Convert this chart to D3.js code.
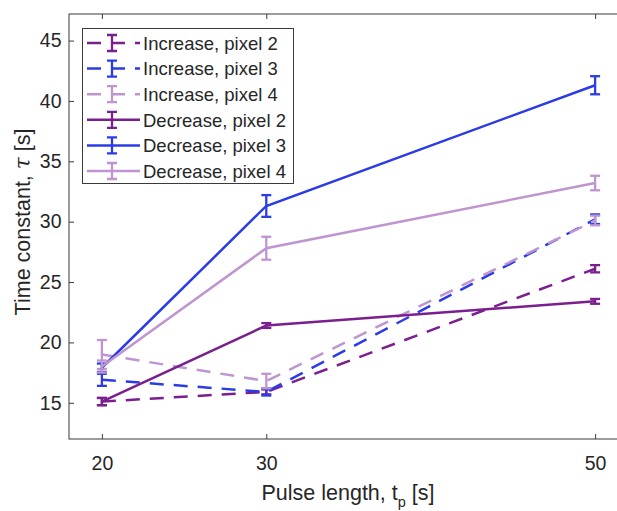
<!DOCTYPE html>
<html>
<head>
<meta charset="utf-8">
<script src="https://cdn.jsdelivr.net/npm/d3@7"></script>
<style>
  body { margin: 0; background: #fff; }
  text { font-family: "Liberation Sans", Arial, Helvetica, sans-serif; fill: #262626; }
</style>
</head>
<body>
<div id="chart"></div>
<script>
// pulse lengths (x) and tick labels
const pulse = [20, 30, 50]
const xTicks = [20, 30, 50]
const yTicks = [15, 20, 25, 30, 35, 40, 45]

// time constants per series, with error bar half-widths
const incP2 = [15.1, 15.9, 26.1], incP2Err = [0.3, 0.2, 0.3]
const incP3 = [16.9, 15.9, 30.2], incP3Err = [0.5, 0.3, 0.4]
const incP4 = [19.0, 16.8, 30.1], incP4Err = [1.2, 0.6, 0.4]
const decP2 = [15.1, 21.4, 23.4], decP2Err = [0.3, 0.2, 0.2]
const decP3 = [17.9, 31.3, 41.3], decP3Err = [0.35, 0.9, 0.75]
const decP4 = [18.0, 27.8, 33.2], decP4Err = [0.5, 0.95, 0.6]

const seriesNames = ['Increase, pixel 2', 'Increase, pixel 3', 'Increase, pixel 4',
  'Decrease, pixel 2', 'Decrease, pixel 3', 'Decrease, pixel 4']

const purple = '#7a1f8e', blue = '#2b3ce6', lilac = '#bf95d0'

const series = [
  {name: seriesNames[0], y: incP2, err: incP2Err, color: purple, dashed: true},
  {name: seriesNames[1], y: incP3, err: incP3Err, color: blue, dashed: true},
  {name: seriesNames[2], y: incP4, err: incP4Err, color: lilac, dashed: true},
  {name: seriesNames[3], y: decP2, err: decP2Err, color: purple, dashed: false},
  {name: seriesNames[4], y: decP3, err: decP3Err, color: blue, dashed: false},
  {name: seriesNames[5], y: decP4, err: decP4Err, color: lilac, dashed: false}
]

const width = 617, height = 511
const axisColor = '#3a3a3a'
const dash = '14,10'
const capW = 5

const x = d3.scaleLinear().domain([18, 52]).range([69, 628])
const y = d3.scaleLinear().domain([12, 47.2]).range([439, 14])

const svg = d3.select('#chart').append('svg')
  .attr('width', width)
  .attr('height', height)

// box + ticks
svg.append('rect')
  .attr('x', x(18)).attr('y', y(47.2))
  .attr('width', x(52) - x(18)).attr('height', y(12) - y(47.2))
  .attr('fill', 'none').attr('stroke', axisColor).attr('stroke-width', 1)

const xAxisB = d3.axisBottom(x).tickValues(xTicks).tickSize(-5).tickPadding(17)
const xAxisT = d3.axisTop(x).tickValues(xTicks).tickSize(-5).tickFormat('')
const yAxisL = d3.axisLeft(y).tickValues(yTicks).tickSize(-5).tickPadding(7.5)

const styleAxis = g => {
  g.select('.domain').remove()
  g.selectAll('line').attr('stroke', axisColor)
  g.selectAll('text').attr('fill', '#262626')
    .style('font-size', '19.5px')
    .style('font-family', '"Liberation Sans", Arial, sans-serif')
}

svg.append('g').attr('transform', `translate(0,${y(12)})`).call(xAxisB).call(styleAxis)
svg.append('g').attr('transform', `translate(0,${y(47.2)})`).call(xAxisT).call(styleAxis)
svg.append('g').attr('transform', `translate(${x(18)},0)`).call(yAxisL).call(styleAxis)

// axis labels
const xl = svg.append('text')
  .attr('x', 348).attr('y', 500)
  .attr('text-anchor', 'middle')
  .style('font-size', '21.5px')
xl.append('tspan').text('Pulse length, t')
xl.append('tspan').attr('dy', 7).style('font-size', '14.5px').text('p')
xl.append('tspan').attr('dy', -7).text(' [s]')

const yl = svg.append('text')
  .attr('transform', 'translate(30,222) rotate(-90)')
  .attr('text-anchor', 'middle')
  .style('font-size', '21.5px')
yl.append('tspan').text('Time constant, ')
yl.append('tspan').style('font-family', '"DejaVu Serif", serif').style('font-style', 'italic').text('τ')
yl.append('tspan').text(' [s]')

// lines
const line = d3.line()
  .x((d, i) => x(pulse[i]))
  .y(d => y(d))

const plot = svg.append('g')

series.forEach(s => {
  plot.append('path')
    .datum(s.y)
    .attr('d', line)
    .attr('fill', 'none')
    .attr('stroke', s.color)
    .attr('stroke-width', 2.5)
    .attr('stroke-dasharray', s.dashed ? dash : null)

  const bars = plot.append('g')
    .selectAll('g')
    .data(s.y.map((v, i) => ({x: pulse[i], v: v, e: s.err[i]})))
    .join('g')
    .attr('stroke', s.color)
    .attr('stroke-width', 2.3)
  bars.append('line')
    .attr('x1', d => x(d.x)).attr('x2', d => x(d.x))
    .attr('y1', d => y(d.v - d.e)).attr('y2', d => y(d.v + d.e))
  bars.append('line')
    .attr('x1', d => x(d.x) - capW).attr('x2', d => x(d.x) + capW)
    .attr('y1', d => y(d.v - d.e)).attr('y2', d => y(d.v - d.e))
  bars.append('line')
    .attr('x1', d => x(d.x) - capW).attr('x2', d => x(d.x) + capW)
    .attr('y1', d => y(d.v + d.e)).attr('y2', d => y(d.v + d.e))
})

// legend
const legend = svg.append('g')
legend.append('rect')
  .attr('x', 82.5).attr('y', 28.5)
  .attr('width', 211).attr('height', 155)
  .attr('fill', '#fff')
  .attr('stroke', axisColor)
  .attr('stroke-width', 1)

const rows = legend.selectAll('g.row')
  .data(series)
  .join('g')
  .attr('class', 'row')
  .attr('transform', (d, i) => `translate(0,${43 + i * 25.6})`)

rows.append('line')
  .attr('x1', 87).attr('x2', 140)
  .attr('y1', 0).attr('y2', 0)
  .attr('stroke', d => d.color)
  .attr('stroke-width', 2.5)
  .attr('stroke-dasharray', d => d.dashed ? dash : null)
rows.append('path')
  .attr('d', `M${112 - capW},-8H${112 + capW}M112,-8V8M${112 - capW},8H${112 + capW}`)
  .attr('fill', 'none')
  .attr('stroke', d => d.color)
  .attr('stroke-width', 2.3)
rows.append('text')
  .attr('x', 143).attr('y', 6.8)
  .style('font-size', '18.5px')
  .text(d => d.name)
</script>
</body>
</html>
